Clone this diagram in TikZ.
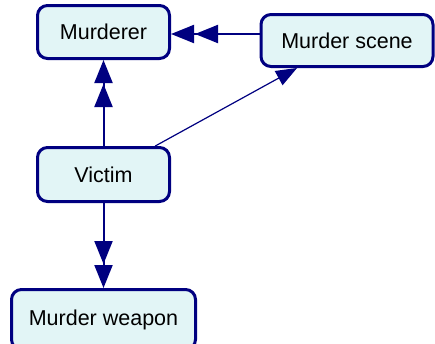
\documentclass[tikz,border=0pt]{standalone}
\usepackage{fontspec}
\setmainfont{Liberation Sans}
\usetikzlibrary{arrows.meta}
\definecolor{navy}{RGB}{0,0,128}
\definecolor{boxfill}{RGB}{226,245,246}
\begin{document}
\begin{tikzpicture}[x=1pt,y=-1pt,
  box/.style={draw=navy,fill=boxfill,line width=3pt,rounded corners=10pt,
    inner sep=0pt,font=\fontsize{21.5}{24}\selectfont,text=black},
  link/.style={draw=navy,line width=2pt},
  dbl/.style={-{Triangle[length=23pt,width=18pt,sep=1pt]Triangle[length=23pt,width=18pt]}}]
\useasboundingbox (0,0) rectangle (435,343);
\begin{scope}
\clip (0,0) rectangle (435,343);
\node[box,minimum width=132pt,minimum height=53pt] (murderer) at (103.5,32) {Murderer};
\node[box,minimum width=172pt,minimum height=52pt] (scene) at (347,40.5) {Murder scene};
\node[box,minimum width=132pt,minimum height=54pt] (victim) at (103.5,174.5) {Victim};
\node[box,minimum width=184pt,minimum height=60pt] (weapon) at (103.5,319.5) {\raisebox{3pt}{Murder weapon}};
\end{scope}
\coordinate (me) at ([yshift=-2pt]murderer.east);
\draw[link,dbl] (victim) -- (murderer);
\draw[link,dbl] (scene.west |- me) -- (me);
\draw[link,dbl] (victim) -- (weapon);
\draw[draw=navy,line width=1.2pt,-{Triangle[length=21pt,width=16pt]}] (victim) -- (scene);
\end{tikzpicture}
\end{document}
